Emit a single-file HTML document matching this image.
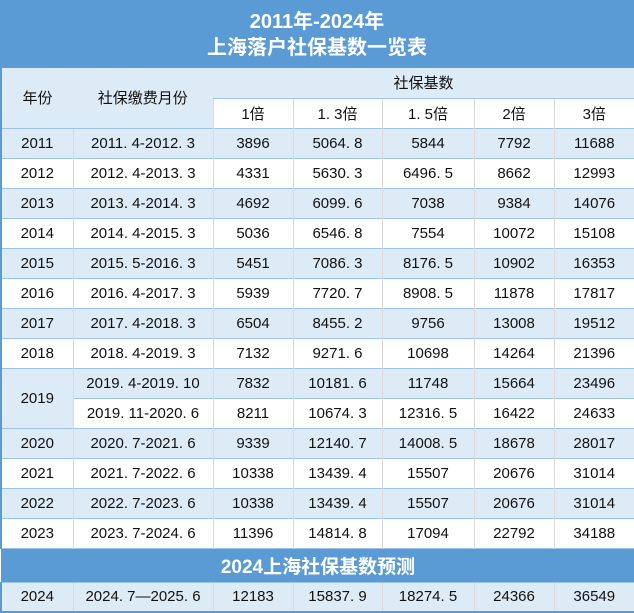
<!DOCTYPE html>
<html><head><meta charset="utf-8"><style>
*{margin:0;padding:0;box-sizing:border-box}
body{width:634px;height:612px;background:#fff;font-family:"Liberation Sans","Noto Sans CJK SC",sans-serif;overflow:hidden;position:relative}
.title{position:absolute;left:0;top:0;width:634px;height:68px;background:#5b9bd5;color:#fff;font-weight:bold;font-size:20px;text-align:center;line-height:26px;padding-top:9px}
table{position:absolute;left:0;top:68px;width:634px;border-collapse:collapse;table-layout:fixed;font-size:15px;color:#111}
td{height:30px;text-align:center;vertical-align:middle;border-top:1px solid #9dc3e6;border-left:1px solid #d9d9d9;padding:0;white-space:pre}
td.f{border-left:2px solid #5b9bd5}
tr td:last-child{border-right:2px solid #5b9bd5}
.l{background:#ddebf7}
.w{background:#fff}
.ban td{height:34px;background:#5b9bd5;color:#fff;font-weight:bold;font-size:19px;border-left:none;border-right:none}
.last td{border-bottom:2px solid #5b9bd5;height:30px}
</style></head><body>
<div class="title">2011年-2024年<br>上海落户社保基数一览表</div>
<table>
<colgroup><col style="width:72px"><col style="width:140px"><col style="width:80px"><col style="width:89px"><col style="width:92px"><col style="width:80px"><col style="width:81px"></colgroup>
<tr class="l"><td rowspan="2" class="l f" style="border-top:none">年份</td><td rowspan="2" class="l" style="border-top:none;border-left:none">社保缴费月份</td><td colspan="5" class="l" style="border-top:none;border-left:none">社保基数</td></tr>
<tr><td class="w">1倍</td><td class="w">1. 3倍</td><td class="w">1. 5倍</td><td class="w">2倍</td><td class="w">3倍</td></tr>
<tr class="l"><td class="f">2011</td><td>2011. 4-2012. 3</td><td>3896</td><td>5064. 8</td><td>5844</td><td>7792</td><td>11688</td></tr>
<tr class="w"><td class="f">2012</td><td>2012. 4-2013. 3</td><td>4331</td><td>5630. 3</td><td>6496. 5</td><td>8662</td><td>12993</td></tr>
<tr class="l"><td class="f">2013</td><td>2013. 4-2014. 3</td><td>4692</td><td>6099. 6</td><td>7038</td><td>9384</td><td>14076</td></tr>
<tr class="w"><td class="f">2014</td><td>2014. 4-2015. 3</td><td>5036</td><td>6546. 8</td><td>7554</td><td>10072</td><td>15108</td></tr>
<tr class="l"><td class="f">2015</td><td>2015. 5-2016. 3</td><td>5451</td><td>7086. 3</td><td>8176. 5</td><td>10902</td><td>16353</td></tr>
<tr class="w"><td class="f">2016</td><td>2016. 4-2017. 3</td><td>5939</td><td>7720. 7</td><td>8908. 5</td><td>11878</td><td>17817</td></tr>
<tr class="l"><td class="f">2017</td><td>2017. 4-2018. 3</td><td>6504</td><td>8455. 2</td><td>9756</td><td>13008</td><td>19512</td></tr>
<tr class="w"><td class="f">2018</td><td>2018. 4-2019. 3</td><td>7132</td><td>9271. 6</td><td>10698</td><td>14264</td><td>21396</td></tr>
<tr class="l"><td rowspan="2" class="l f">2019</td><td>2019. 4-2019. 10</td><td>7832</td><td>10181. 6</td><td>11748</td><td>15664</td><td>23496</td></tr>
<tr class="w"><td>2019. 11-2020. 6</td><td>8211</td><td>10674. 3</td><td>12316. 5</td><td>16422</td><td>24633</td></tr>
<tr class="l"><td class="f">2020</td><td>2020. 7-2021. 6</td><td>9339</td><td>12140. 7</td><td>14008. 5</td><td>18678</td><td>28017</td></tr>
<tr class="w"><td class="f">2021</td><td>2021. 7-2022. 6</td><td>10338</td><td>13439. 4</td><td>15507</td><td>20676</td><td>31014</td></tr>
<tr class="l"><td class="f">2022</td><td>2022. 7-2023. 6</td><td>10338</td><td>13439. 4</td><td>15507</td><td>20676</td><td>31014</td></tr>
<tr class="w"><td class="f">2023</td><td>2023. 7-2024. 6</td><td>11396</td><td>14814. 8</td><td>17094</td><td>22792</td><td>34188</td></tr>
<tr class="ban"><td colspan="7" style="border-left:none;border-right:none">2024上海社保基数预测</td></tr>
<tr class="l last"><td class="f">2024</td><td>2024. 7—2025. 6</td><td>12183</td><td>15837. 9</td><td>18274. 5</td><td>24366</td><td>36549</td></tr>
</table>
</body></html>
